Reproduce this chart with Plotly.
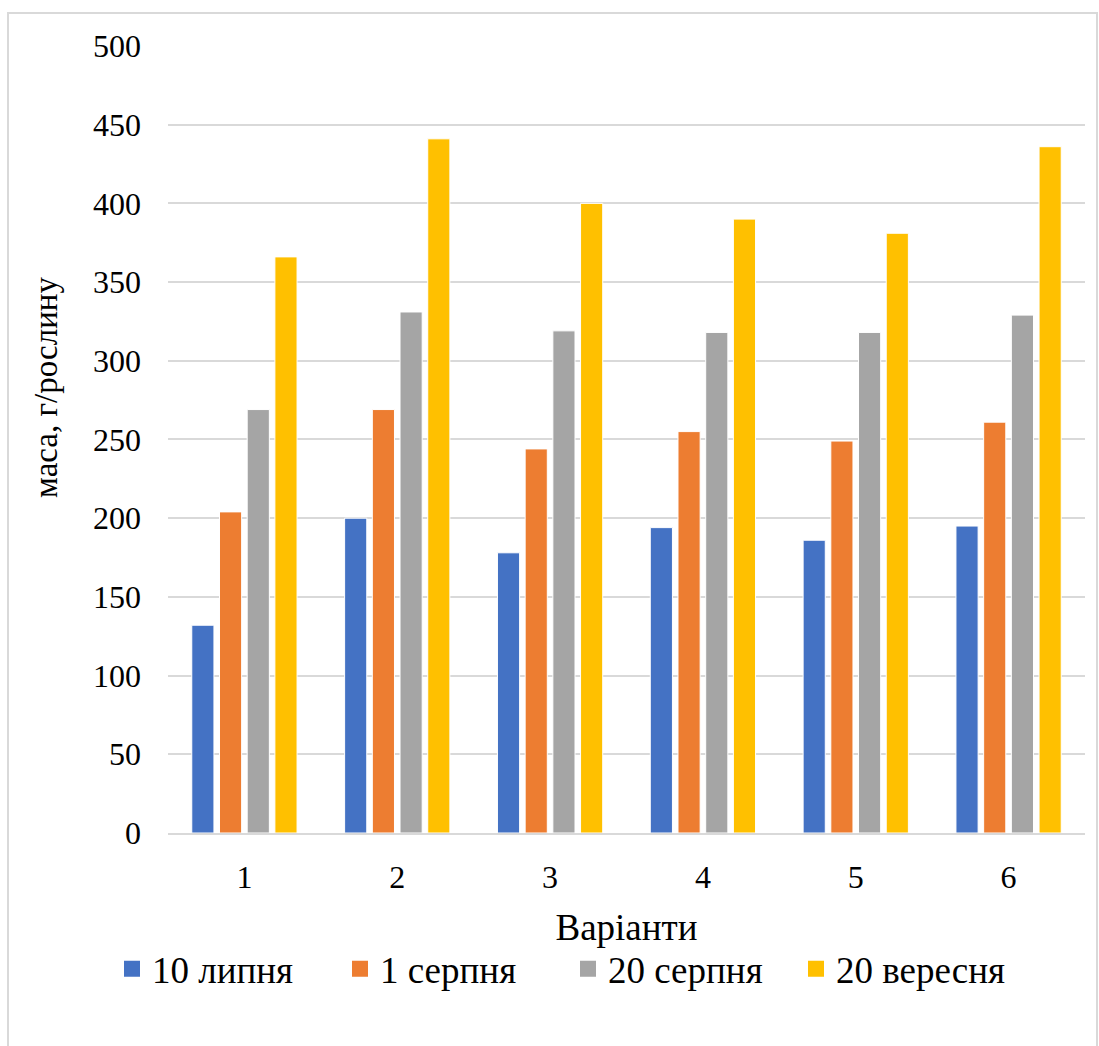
import plotly.graph_objects as go

categories = ["1", "2", "3", "4", "5", "6"]
series_names = ["10 липня", "1 серпня", "20 серпня", "20 вересня"]
v_10_lypnia = [132, 200, 178, 194, 186, 195]
v_1_serpnia = [204, 269, 244, 255, 249, 261]
v_20_serpnia = [269, 331, 319, 318, 318, 329]
v_20_veresnia = [366, 441, 400, 390, 381, 436]
y_ticks = [0, 50, 100, 150, 200, 250, 300, 350, 400, 450, 500]

colors = ["#4472C4", "#ED7D31", "#A5A5A5", "#FFC000"]
FONT = "Liberation Serif"

fig = go.Figure()
for name, vals, col in zip(series_names,
                           [v_10_lypnia, v_1_serpnia, v_20_serpnia, v_20_veresnia],
                           colors):
    fig.add_trace(go.Bar(x=categories, y=vals, name=name, showlegend=False,
                         marker=dict(color=col, line=dict(color="white", width=1))))
# legend entries with larger square swatches
for name, col in zip(series_names, colors):
    fig.add_trace(go.Scatter(x=[None], y=[None], mode="markers", name=name,
                             marker=dict(symbol="square", size=18, color=col)))

L, R, T, B = 168, 14, 45, 213
W, H = 1099, 1046
PW, PH = W - L - R, H - T - B

fig.update_layout(
    width=W, height=H,
    margin=dict(l=L, r=R, t=T, b=B),
    paper_bgcolor="white", plot_bgcolor="white",
    font=dict(family=FONT, size=32, color="black"),
    barmode="group", bargap=0.275, bargroupgap=0.2,
    legend=dict(orientation="h", x=(112 - L) / PW, xanchor="left",
                y=-0.1335, yanchor="top", entrywidth=183, entrywidthmode="pixels",
                font=dict(family=FONT, size=37, color="black"), traceorder="normal"),
    xaxis=dict(title=dict(text="Варіанти", standoff=20,
                          font=dict(family=FONT, size=37)),
               showgrid=False, showline=True, linecolor="#d9d9d9", linewidth=2,
               ticks="", ticklabelstandoff=15, tickfont=dict(family=FONT, size=32)),
    yaxis=dict(range=[0, 500.6], tickvals=y_ticks, showgrid=True,
               gridcolor="#d9d9d9", gridwidth=1.5, zeroline=False, showline=False,
               ticks="", ticklabelstandoff=26, tickfont=dict(family=FONT, size=32)),
    annotations=[dict(text="маса, г/рослину", textangle=-90, showarrow=False,
                      xref="paper", yref="paper",
                      x=(46 - L) / PW, y=(T + PH - 388) / PH,
                      xanchor="center", yanchor="middle",
                      font=dict(family=FONT, size=33, color="black"))],
    shapes=[dict(type="rect", xref="paper", yref="paper",
                 x0=(8 - L) / PW, x1=(1097 - L) / PW,
                 y0=(T + PH - 1060) / PH, y1=(T + PH - 13) / PH,
                 line=dict(color="#d9d9d9", width=2), fillcolor="rgba(0,0,0,0)",
                 layer="below")],
)

fig.write_html("out.html", config={"displayModeBar": False},
               post_script="document.body.style.margin='0';")
